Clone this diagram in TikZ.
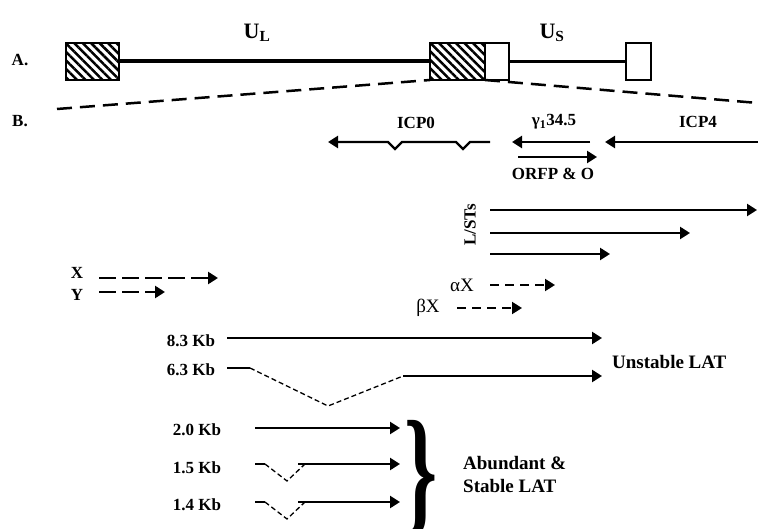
\documentclass[tikz,border=0pt]{standalone}
\usepackage{fontspec}
\setmainfont{Liberation Serif}
\usetikzlibrary{arrows.meta, patterns.meta, positioning}

\begin{document}
\begin{tikzpicture}[x=1pt, y=-1pt,
  lbl/.style={font=\fontsize{17}{19}\selectfont\bfseries, inner sep=0pt},
  biglbl/.style={font=\fontsize{19}{23}\selectfont\bfseries, inner sep=0pt},
  greek/.style={font=\fontsize{19}{21}\selectfont, inner sep=0pt},
  hatchbox/.style={draw, line width=2.5pt, minimum width=#1, minimum height=37pt,
    inner sep=0pt, outer sep=0pt, pattern={Lines[angle=-45,distance=6pt,line width=2.5pt]}},
  plainbox/.style={draw, line width=2.5pt, fill=white, minimum width=#1,
    minimum height=37pt, inner sep=0pt, outer sep=0pt},
  tx/.style={line width=2.4pt, -{Triangle[length=10pt,width=12pt]}},
  zoomline/.style={line width=2.5pt, dash pattern=on 15pt off 8pt},
  xdash/.style={tx, line width=2.8pt, dash pattern=on 17pt off 6pt},
  adash/.style={tx, line width=2pt, dash pattern=on 9pt off 6pt},
  splice/.style={line width=1.3pt, dash pattern=on 5pt off 3pt}]

  \useasboundingbox (0,0) rectangle (758,529);

  % A. genome map
  \node[lbl] (a) at (20,60) {A.};
  \node[hatchbox=53pt] (trl) at (92.5,61.5) {};
  \node[hatchbox=55pt] (irs) at (457.5,61.5) {};
  \node[plainbox=24pt, right=0pt of irs] (irsw) {};
  \node[plainbox=25pt] (trs) at (638.5,61.5) {};
  \draw[line width=4pt] (trl.east) -- (irs.west);
  \draw[line width=3.5pt] (irsw.east) -- (trs.west);
  \node[font=\fontsize{22}{24}\selectfont\bfseries] (ul) at (257,33) {U\textsubscript{L}};
  \node[font=\fontsize{22}{24}\selectfont\bfseries] (us) at (552,33) {U\textsubscript{S}};

  % B. expanded region
  \node[lbl] (b) at (20,121) {B.};
  \coordinate (zl) at (57,109);
  \coordinate (zr) at (758,103);
  \draw[zoomline] (zl) -- (irs.south west);
  \draw[zoomline] (irs.south east) -- (zr);

  % ICP0, gamma 34.5, ICP4
  \coordinate (icp0s) at (490,142);
  \coordinate (icp0e) at (328,142);
  \draw[tx] (icp0s) -- ++(-20,0) -- ++(-7,7) -- ++(-7,-7) -- ++(-54,0)
    -- ++(-7,7) -- ++(-7,-7) -- (icp0e);
  \node[lbl] (icp0) at (416,123) {ICP0};
  \coordinate (gs) at (590,142);
  \coordinate (ge) at (512,142);
  \draw[tx] (gs) -- (ge);
  \node[lbl] (gam) at (554,122) {γ\textsubscript{1}34.5};
  \coordinate (os) at (518,157);
  \coordinate (oe) at (597,157);
  \draw[tx] (os) -- (oe);
  \node[lbl] (orfp) at (553,174) {ORFP \& O};
  \coordinate (i4s) at (760,142);
  \coordinate (i4e) at (605,142);
  \draw[tx] (i4s) -- (i4e);
  \node[lbl] (icp4) at (698,122) {ICP4};

  % L/STs
  \node[lbl, rotate=90] (lst) at (470,225) {L/STs};
  \coordinate (l1s) at (490,210); \coordinate (l1e) at (757,210);
  \coordinate (l2s) at (490,233); \coordinate (l2e) at (690,233);
  \coordinate (l3s) at (490,254); \coordinate (l3e) at (610,254);
  \draw[tx] (l1s) -- (l1e);
  \draw[tx] (l2s) -- (l2e);
  \draw[tx] (l3s) -- (l3e);

  % X and Y
  \node[lbl] (x) at (77,273) {X};
  \node[lbl] (y) at (77,295) {Y};
  \coordinate (xs) at (99,278); \coordinate (xe) at (218,278);
  \coordinate (ys) at (99,292); \coordinate (ye) at (165,292);
  \draw[xdash] (xs) -- (xe);
  \draw[xdash] (ys) -- (ye);

  % alpha X and beta X
  \node[greek] (ax) at (462,285) {αX};
  \node[greek] (bx) at (428,308) {βX};
  \coordinate (axs) at (490,285); \coordinate (axe) at (555,285);
  \coordinate (bxs) at (457,308); \coordinate (bxe) at (522,308);
  \draw[adash] (axs) -- (axe);
  \draw[adash] (bxs) -- (bxe);

  % unstable LAT
  \node[lbl] (k83) at (191,341) {8.3 Kb};
  \node[lbl] (k63) at (191,370) {6.3 Kb};
  \coordinate (s83) at (227,338); \coordinate (e83) at (602,338);
  \draw[tx] (s83) -- (e83);
  \coordinate (s63) at (227,368); \coordinate (d63) at (250,368);
  \coordinate (v63) at (328,406); \coordinate (u63) at (403,376);
  \coordinate (e63) at (602,376);
  \draw[line width=2.4pt] (s63) -- (d63);
  \draw[splice] (d63) -- (v63) -- (u63);
  \draw[tx] (u63) -- (e63);
  \node[biglbl, anchor=west] (unst) at (612,362) {Unstable LAT};

  % stable LAT
  \node[lbl] (k20) at (197,430) {2.0 Kb};
  \node[lbl] (k15) at (197,468) {1.5 Kb};
  \node[lbl] (k14) at (197,505) {1.4 Kb};
  \coordinate (s20) at (255,428); \coordinate (e20) at (400,428);
  \draw[tx] (s20) -- (e20);
  \foreach \nm/\yy in {15/464, 14/502} {
    \coordinate (s\nm) at (255,\yy);
    \coordinate (e\nm) at (400,\yy);
    \draw[line width=2.4pt] (s\nm) -- ++(10,0) coordinate (d\nm);
    \draw[splice] (d\nm) -- ++(22,17) -- ++(18,-17);
    \draw[tx] ([xshift=43pt]s\nm) -- (e\nm);
  }
  \node[font=\fontsize{140}{140}\selectfont\bfseries, xscale=0.6] (brace) at (421,478) {\}};
  \node[biglbl, anchor=west, align=left] (stab) at (463,475) {Abundant \&\\Stable LAT};

\end{tikzpicture}
\end{document}
